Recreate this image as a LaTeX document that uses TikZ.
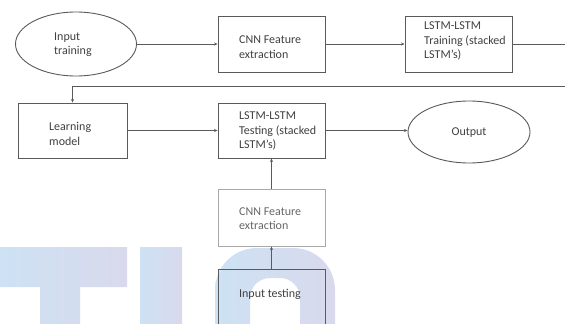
\documentclass[tikz,border=0pt]{standalone}
\usepackage{fontspec}
\setmainfont{Carlito}
\usetikzlibrary{shapes.geometric,arrows.meta}
\definecolor{ln}{HTML}{5A5A5A}
\definecolor{lnlight}{HTML}{A8A8A8}
\definecolor{txt}{HTML}{404040}
\definecolor{wmA}{HTML}{CDE2F4}
\definecolor{wmB}{HTML}{D9D9EC}
\tikzset{
  box/.style={draw=ln, line width=0.9pt, rectangle, minimum width=107pt, minimum height=56pt, inner sep=0pt},
  oval/.style={draw=ln, line width=0.9pt, ellipse, inner sep=0pt},
  lbl/.style={font=\fontsize{12}{14.3}\selectfont, text=txt, align=left, inner sep=0pt, anchor=west},
  conn/.style={draw=ln, line width=0.8pt, -{Stealth[length=3.5pt,width=3pt]}},
  plain/.style={draw=ln, line width=0.8pt},
  wm/.style={left color=wmA, right color=wmB, draw=none}
}
\begin{document}
\begin{tikzpicture}[x=1pt,y=-1pt]
\useasboundingbox (0,0) rectangle (565,324);
\clip (0,0) rectangle (565,324);
\fill[white] (0,0) rectangle (565,324);
% watermark
\shade[wm] (0,247) -- (127,247) -- (127,287) -- (80,287) -- (80,330) -- (40,330) -- (40,287) -- (0,287) -- cycle;
\shade[wm] (140,247) rectangle (182,330);
\shade[wm] (215,330) -- (215,290) arc[start angle=180,end angle=270,radius=42] -- (293,248) arc[start angle=270,end angle=360,radius=42] -- (335,330) -- (300,330) -- (300,298) arc[start angle=0,end angle=-90,radius=20] -- (270,278) arc[start angle=270,end angle=180,radius=20] -- (250,330) -- cycle;
% nodes
\node[oval, minimum width=121pt, minimum height=64pt] (inTrain) at (76,44) {};
\node[lbl] (inTrainT) at (54,45) {Input\\training};
\node[box] (cnnA) at (271.5,44) {};
\node[lbl] (cnnAT) at (239,47) {CNN Feature\\extraction};
\node[box] (lstmA) at (458.5,44) {};
\node[lbl] (lstmAT) at (424,41) {LSTM-LSTM\\Training (stacked\\LSTM's)};
\node[box, minimum width=109pt, minimum height=55pt] (learn) at (72.5,130.5) {};
\node[lbl] (learnT) at (49,134) {Learning\\model};
\node[box, minimum height=55pt] (test) at (271.5,130.5) {};
\node[lbl] (testT) at (239,131) {LSTM-LSTM\\Testing (stacked\\LSTM's)};
\node[oval, minimum width=122pt, minimum height=62pt] (out) at (469,132) {};
\node[lbl, anchor=center] (outT) at (469,133) {Output};
\node[box, draw=lnlight, minimum height=57pt] (cnnB) at (271.5,217.5) {};
\node[lbl, text=txt!80] (cnnBT) at (239,218.5) {CNN Feature\\extraction};
\node[box, minimum height=62pt] (inTest) at (271.5,300) {};
\node[lbl, anchor=center] (inTestT) at (270,294) {Input testing};
\coordinate (offA) at (570,44);
\coordinate (offB) at (570,86);
% connectors
\draw[conn] (inTrain.east) -- (cnnA.west);
\draw[conn] (cnnA.east) -- (lstmA.west);
\draw[plain] (lstmA.east) -- (offA);
\draw[conn] (offB) -| (learn.north);
\draw[conn] (learn.east) -- (test.west);
\draw[conn] (test.east) -- (test.east -| out.west);
\draw[conn] (cnnB.north) -- (test.south);
\draw[conn] (inTest.north) -- (cnnB.south);
\end{tikzpicture}
\end{document}
